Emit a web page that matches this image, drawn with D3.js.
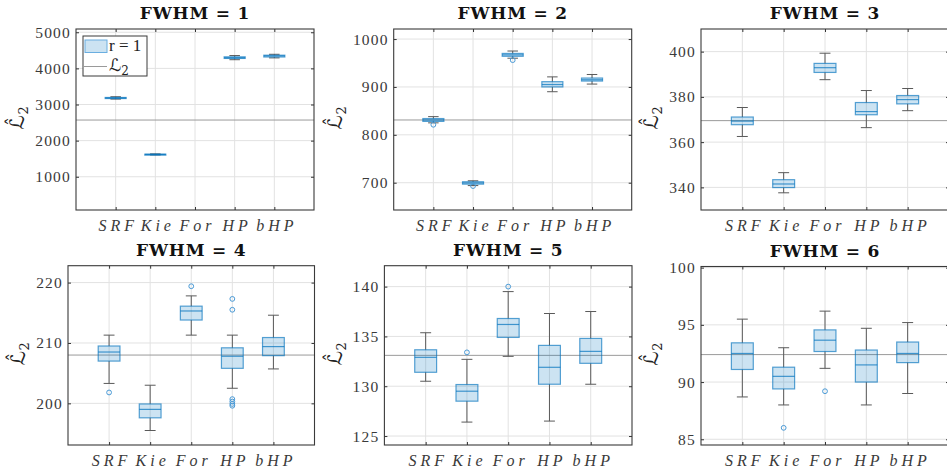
<!DOCTYPE html>
<html>
<head>
<meta charset="utf-8">
<script src="https://cdn.jsdelivr.net/npm/d3@7"></script>
<style>
  body { margin: 0; background: #fff; }
  svg { display: block; }
</style>
</head>
<body>
<svg width="947" height="475"></svg>
<script>
// ---- data ----
const methods = ["SRF", "Kie", "For", "HP", "bHP"];
const fwhm = [1, 2, 3, 4, 5, 6];
const L2 = [2570, 831, 369.5, 208, 133.1, 92.4];

const yLimits = [[80, 5090], [643, 1021], [330, 410], [193.1, 222.8], [124.1, 142.1], [84.5, 100.1]];
const yTickVals = [
  [1000, 2000, 3000, 4000, 5000],
  [700, 800, 900, 1000],
  [340, 360, 380, 400],
  [200, 210, 220],
  [125, 130, 135, 140],
  [85, 90, 95, 100]
];

// per panel, per method (null = not shown)
const medians = [
  [3180, 1620, null, 4295, 4345],
  [831, 699.5, 967, 905, 915],
  [369.3, 341.5, 392.9, 373.5, 378.8],
  [208.5, 199.0, 215.3, 207.8, 209.4],
  [132.9, 129.5, 136.2, 131.9, 133.5],
  [92.5, 90.5, 93.66, 91.5, 92.5]
];
const q1 = [
  [3165, 1612, null, 4275, 4315],
  [828, 697, 964, 900, 912.3],
  [367.7, 339.9, 390.8, 372.1, 376.9],
  [207.0, 197.6, 213.8, 205.8, 207.9],
  [131.4, 128.5, 134.9, 130.2, 132.3],
  [91.1, 89.4, 92.67, 90.0, 91.7]
];
const q3 = [
  [3195, 1625, null, 4320, 4365],
  [834, 702, 970, 911, 918.6],
  [371.1, 343.4, 394.8, 377.5, 380.6],
  [209.5, 199.9, 216.1, 209.2, 210.9],
  [133.66, 130.17, 136.8, 134.1, 134.8],
  [93.43, 91.3, 94.56, 92.8, 93.5]
];
const whiskLo = [
  [3150, 1605, null, 4240, 4290],
  [825, 694, 960, 890, 906],
  [362.5, 337.6, 387.6, 366.4, 373.9],
  [203.3, 195.5, 211.3, 202.5, 205.7],
  [130.5, 126.4, 133.0, 126.5, 130.2],
  [88.7, 88.0, 91.2, 88.0, 89.0]
];
const whiskHi = [
  [3215, 1632, null, 4355, 4390],
  [838, 704, 975, 921, 926],
  [375.3, 346.5, 399.3, 382.8, 383.7],
  [211.3, 203.0, 217.8, 211.3, 214.6],
  [135.37, 132.7, 139.5, 137.3, 137.5],
  [95.5, 93.0, 96.2, 94.7, 95.2]
];
const outliers = [
  [[], [], [], [], []],
  [[821], [693], [956], [], []],
  [[], [], [], [], []],
  [[201.8], [], [219.4], [217.3, 215.5, 200.7, 200.3, 199.9, 199.6], []],
  [[], [133.4], [140.0], [], []],
  [[], [86.0], [89.2], [], []]
];

// ---- layout ----
const panels = [
  { x0: 76, x1: 314, y0: 29, y1: 210 },
  { x0: 393.7, x1: 631.7, y0: 29, y1: 210 },
  { x0: 701, x1: 949, y0: 29, y1: 210 },
  { x0: 68, x1: 314.5, y0: 265.7, y1: 445 },
  { x0: 384.4, x1: 632, y0: 265.7, y1: 445 },
  { x0: 701, x1: 949, y0: 266.5, y1: 445 }
];

const serif = "'Liberation Serif', 'DejaVu Serif', serif";
const titleFont = "'DejaVu Serif', serif";
const mathFont = "'DejaVu Serif', 'DejaVu Sans', serif";
const blue = "#0072BD";
const boxW = 0.53;

const svg = d3.select("svg");

panels.forEach(function(pn, p) {
  const g = svg.append("g");
  const x = d3.scaleLinear().domain([0, 6]).range([pn.x0, pn.x1]);
  const y = d3.scaleLinear().domain(yLimits[p]).range([pn.y1, pn.y0]);

  // grid
  g.selectAll(".vg").data([1, 2, 3, 4, 5]).enter().append("line")
    .attr("x1", d => x(d)).attr("x2", d => x(d))
    .attr("y1", pn.y0).attr("y2", pn.y1)
    .attr("stroke", "#e2e2e2").attr("stroke-width", 1);
  g.selectAll(".hg").data(yTickVals[p]).enter().append("line")
    .attr("x1", pn.x0).attr("x2", pn.x1)
    .attr("y1", d => y(d)).attr("y2", d => y(d))
    .attr("stroke", "#e2e2e2").attr("stroke-width", 1);

  // reference line
  g.append("line")
    .attr("x1", pn.x0).attr("x2", pn.x1)
    .attr("y1", y(L2[p])).attr("y2", y(L2[p]))
    .attr("stroke", "#9a9a9a").attr("stroke-width", 1);

  // boxes
  methods.forEach(function(m, i) {
    if (medians[p][i] == null) return;
    const cx = x(i + 1);
    const half = (x(boxW) - x(0)) / 2;
    const cap = half / 2;
    // whiskers
    g.append("line").attr("x1", cx).attr("x2", cx)
      .attr("y1", y(q3[p][i])).attr("y2", y(whiskHi[p][i]))
      .attr("stroke", "#5a5a5a").attr("stroke-width", 1);
    g.append("line").attr("x1", cx).attr("x2", cx)
      .attr("y1", y(q1[p][i])).attr("y2", y(whiskLo[p][i]))
      .attr("stroke", "#5a5a5a").attr("stroke-width", 1);
    g.append("line").attr("x1", cx - cap).attr("x2", cx + cap)
      .attr("y1", y(whiskHi[p][i])).attr("y2", y(whiskHi[p][i]))
      .attr("stroke", "#5a5a5a").attr("stroke-width", 1);
    g.append("line").attr("x1", cx - cap).attr("x2", cx + cap)
      .attr("y1", y(whiskLo[p][i])).attr("y2", y(whiskLo[p][i]))
      .attr("stroke", "#5a5a5a").attr("stroke-width", 1);
    // box
    g.append("rect")
      .attr("x", cx - half).attr("width", half * 2)
      .attr("y", y(q3[p][i])).attr("height", Math.max(y(q1[p][i]) - y(q3[p][i]), 1))
      .attr("fill", blue).attr("fill-opacity", 0.2)
      .attr("stroke", blue).attr("stroke-opacity", 0.65).attr("stroke-width", 1.2);
    g.append("line").attr("x1", cx - half).attr("x2", cx + half)
      .attr("y1", y(medians[p][i])).attr("y2", y(medians[p][i]))
      .attr("stroke", blue).attr("stroke-opacity", 0.7).attr("stroke-width", 1.2);
    // outliers
    g.selectAll(null).data(outliers[p][i]).enter().append("circle")
      .attr("cx", cx).attr("cy", d => y(d)).attr("r", 2.4)
      .attr("fill", "none").attr("stroke", "#4a9ad6").attr("stroke-width", 1);
  });

  // axes
  const ax = g.append("g").attr("transform", `translate(${pn.x0},0)`)
    .call(d3.axisLeft(y).tickValues(yTickVals[p]).tickFormat(d3.format("d")).tickSize(-3).tickPadding(5));
  g.append("g").attr("transform", `translate(${pn.x1},0)`)
    .call(d3.axisRight(y).tickValues(yTickVals[p]).tickFormat("").tickSize(-3));
  const bx = g.append("g").attr("transform", `translate(0,${pn.y1})`)
    .call(d3.axisBottom(x).tickValues([1, 2, 3, 4, 5]).tickFormat(d => methods[d - 1]).tickSize(-3).tickPadding(10));
  g.append("g").attr("transform", `translate(0,${pn.y0})`)
    .call(d3.axisTop(x).tickValues([1, 2, 3, 4, 5]).tickFormat("").tickSize(-3));

  g.selectAll(".domain").remove();
  g.selectAll(".tick line").attr("stroke", "#333");
  ax.selectAll(".tick text").attr("font-family", serif).attr("font-size", 15.5)
    .attr("letter-spacing", 1.2).attr("fill", "#3a3a3a");
  bx.selectAll(".tick text").attr("font-family", serif).attr("font-size", 16)
    .attr("font-style", "italic").attr("letter-spacing", 4).attr("dx", 2).attr("fill", "#3a3a3a");

  // frame
  g.append("rect")
    .attr("x", pn.x0).attr("y", pn.y0)
    .attr("width", pn.x1 - pn.x0).attr("height", pn.y1 - pn.y0)
    .attr("fill", "none").attr("stroke", "#3a3a3a").attr("stroke-width", 1.1);

  // title
  g.append("text")
    .attr("x", (pn.x0 + pn.x1) / 2).attr("y", pn.y0 - 10)
    .attr("text-anchor", "middle")
    .attr("font-family", titleFont).attr("font-weight", "bold").attr("font-size", 17)
    .attr("letter-spacing", 0.8)
    .attr("fill", "#111")
    .text("FWHM = " + fwhm[p]);

  // y label: L-hat with subscript 2, rotated
  const bb = ax.node().getBBox();
  const lx = pn.x0 + bb.x - 11, ly = (pn.y0 + pn.y1) / 2;
  const lg = g.append("g").attr("transform", `translate(${lx},${ly}) rotate(-90)`);
  const lab = lg.append("text")
    .attr("x", -10).attr("y", 0)
    .attr("font-family", mathFont).attr("font-size", 20).attr("fill", "#222");
  lab.append("tspan").text("\u2112");
  lab.append("tspan").attr("font-size", 13).attr("dy", 4).attr("dx", 0.5).text("2");
  lg.append("text")
    .attr("x", -2).attr("y", -4)
    .attr("text-anchor", "middle")
    .attr("font-family", mathFont).attr("font-size", 18).attr("fill", "#222")
    .text("\u02C6");
});

// legend in first panel
const lp = panels[0];
const lg = svg.append("g");
lg.append("rect").attr("x", lp.x0 + 7).attr("y", lp.y0 + 7).attr("width", 64).attr("height", 40)
  .attr("fill", "#fff").attr("stroke", "#3a3a3a").attr("stroke-width", 1);
lg.append("rect").attr("x", lp.x0 + 9).attr("y", lp.y0 + 11).attr("width", 22).attr("height", 12.5)
  .attr("fill", "#cce3f2").attr("stroke", "#6aaee0").attr("stroke-width", 1);
lg.append("text").attr("x", lp.x0 + 33).attr("y", lp.y0 + 22)
  .attr("font-family", serif).attr("font-size", 17).attr("fill", "#222").text("r = 1");
lg.append("line").attr("x1", lp.x0 + 8).attr("x2", lp.x0 + 31)
  .attr("y1", lp.y0 + 37.5).attr("y2", lp.y0 + 37.5)
  .attr("stroke", "#9a9a9a").attr("stroke-width", 1);
const lt = lg.append("text").attr("x", lp.x0 + 33).attr("y", lp.y0 + 42)
  .attr("font-family", mathFont).attr("font-size", 17).attr("fill", "#222");
lt.append("tspan").text("\u2112");
lt.append("tspan").attr("font-size", 12).attr("dy", 4).text("2");
</script>
</body>
</html>
